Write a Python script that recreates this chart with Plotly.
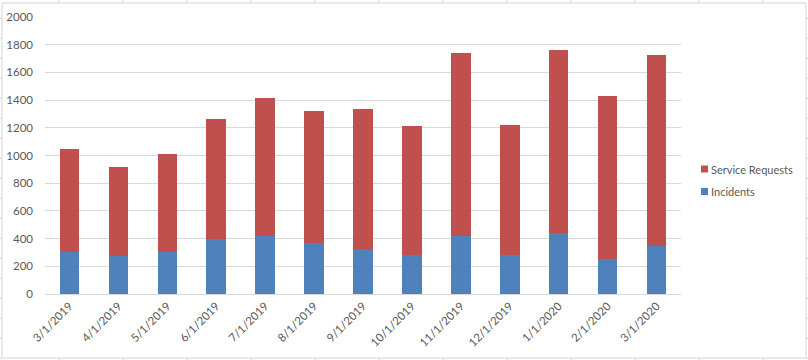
import plotly.graph_objects as go

months = ["3/1/2019", "4/1/2019", "5/1/2019", "6/1/2019", "7/1/2019", "8/1/2019",
          "9/1/2019", "10/1/2019", "11/1/2019", "12/1/2019", "1/1/2020", "2/1/2020", "3/1/2020"]
incidents = [303, 274, 303, 395, 419, 366, 325, 279, 419, 279, 438, 253, 347]
service_requests = [744, 643, 708, 869, 996, 955, 1011, 934, 1321, 941, 1324, 1177, 1379]
y_ticks = [0, 200, 400, 600, 800, 1000, 1200, 1400, 1600, 1800, 2000]

BLUE = "#4F81BD"
RED = "#C0504D"
GRID = "#D9D9D9"
TEXT = "#595959"
FONT = "Lato, Calibri, Carlito, Liberation Sans, sans-serif"

W, H = 808, 360
L, R, T, B = 45, 681, 17, 294  # plot area in pixels

def px(x):
    return (x - L) / (R - L)

def py(y):
    return (B - y) / (B - T)

fig = go.Figure()
fig.add_trace(go.Bar(x=months, y=incidents, name="Incidents", marker_color=BLUE,
                     marker_line_width=0, showlegend=False))
fig.add_trace(go.Bar(x=months, y=service_requests, name="Service Requests", marker_color=RED,
                     marker_line_width=0, showlegend=False))

shapes = []
# chart-area border
shapes.append(dict(type="rect", xref="paper", yref="paper", x0=px(2), x1=px(806), y0=py(358), y1=py(3),
                   line=dict(color="#D4D4D4", width=1), layer="below"))
# spreadsheet cell lines around the chart
for cx in range(59, 808, 64):
    shapes.append(dict(type="line", xref="paper", yref="paper", x0=px(cx), x1=px(cx), y0=py(0), y1=py(3),
                       line=dict(color="#D4D4D4", width=1)))
    shapes.append(dict(type="line", xref="paper", yref="paper", x0=px(cx), x1=px(cx), y0=py(358), y1=py(360),
                       line=dict(color="#D4D4D4", width=1)))
for k in range(0, 18):
    ry = 18.3 + 20 * k
    shapes.append(dict(type="line", xref="paper", yref="paper", x0=px(0), x1=px(2), y0=py(ry), y1=py(ry),
                       line=dict(color="#D4D4D4", width=1)))
    shapes.append(dict(type="line", xref="paper", yref="paper", x0=px(806), x1=px(808), y0=py(ry), y1=py(ry),
                       line=dict(color="#D4D4D4", width=1)))

# manual legend (Service Requests above Incidents)
annotations = []
legend_items = [("Service Requests", RED, 169), ("Incidents", BLUE, 191.5)]
for name, color, cy in legend_items:
    shapes.append(dict(type="rect", xref="paper", yref="paper", x0=px(701), x1=px(708),
                       y0=py(cy + 3.5), y1=py(cy - 3.5), fillcolor=color, line=dict(width=0)))
    annotations.append(dict(text=name, xref="paper", yref="paper", x=px(709), y=py(cy),
                            xanchor="left", yanchor="middle", showarrow=False,
                            font=dict(family=FONT, size=11, color=TEXT)))

fig.update_layout(
    width=W, height=H,
    margin=dict(l=L, r=W - R, t=T, b=H - B, pad=0, autoexpand=False),
    barmode="stack",
    bargap=0.6,
    plot_bgcolor="white",
    paper_bgcolor="white",
    font=dict(family=FONT, size=11.5, color=TEXT),
    shapes=shapes,
    annotations=annotations,
    showlegend=False,
)
fig.update_xaxes(type="category", tickangle=-45, showgrid=False, showline=True, linecolor=GRID,
                 linewidth=1, ticks="", automargin=False, tickfont=dict(family=FONT, size=11.5, color=TEXT))
fig.update_yaxes(range=[0, 2000], tickvals=y_ticks, showgrid=True, gridcolor=GRID, gridwidth=1,
                 zeroline=False, showline=False, ticks="", ticklabelstandoff=11, automargin=False,
                 tickfont=dict(family=FONT, size=11.5, color=TEXT))

fig.write_html("out.html", config={"displayModeBar": False},
               post_script="document.body.style.margin='0';document.body.style.overflow='hidden';")
